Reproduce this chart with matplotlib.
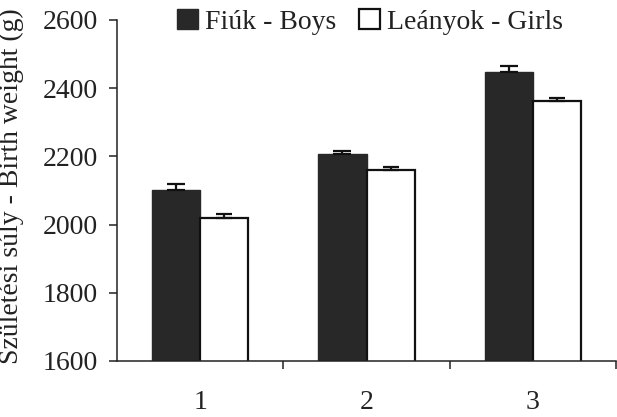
import matplotlib
matplotlib.use("Agg")
import matplotlib.pyplot as plt
import numpy as np

categories = ["1", "2", "3"]
boys = [2101, 2207, 2448]
boys_err = [18, 9, 18]
girls = [2019, 2159, 2362]
girls_err = [12, 11, 10]
yticks = [1600, 1800, 2000, 2200, 2400, 2600]

plt.rcParams['font.family'] = ['Liberation Serif', 'DejaVu Serif']
FS = 20
TXT = '#222222'

fig = plt.figure(figsize=(6.17, 4.17), dpi=100)
ax = fig.add_axes([117/617, 1-361/417, 499/617, 341/417])

x = np.arange(len(categories))
w = 0.29
ax.bar(x - w/2, boys, width=w, color='#282828', edgecolor='#282828', linewidth=1.0,
       label='Fiúk - Boys', zorder=2)
ax.bar(x + w/2, girls, width=w, color='white', edgecolor='#111111', linewidth=1.6,
       label='Leányok - Girls', zorder=2)
ax.errorbar(x - w/2, boys, yerr=[np.zeros(3), boys_err], fmt='none', ecolor='#111111',
            elinewidth=1.6, capsize=6.5, capthick=1.6, zorder=3)
ax.errorbar(x + w/2, girls, yerr=[np.zeros(3), girls_err], fmt='none', ecolor='#111111',
            elinewidth=1.6, capsize=5.5, capthick=1.6, zorder=3)

ax.set_xlim(-0.5, 2.5)
ax.set_ylim(1600, 2600)
ax.set_yticks(yticks)
ax.set_yticklabels([str(v) for v in yticks])
ax.set_xticks(x)
ax.set_xticklabels(categories)
ax.set_xticks([0.5, 1.5, 2.5], minor=True)
ax.tick_params(axis='x', which='major', length=0, pad=21, labelsize=FS, labelcolor=TXT)
ax.tick_params(axis='x', which='minor', length=6, width=1.1, direction='out', color='#222222')
ax.tick_params(axis='y', length=6, width=1.1, direction='out', pad=8, labelsize=FS,
               labelcolor=TXT, color='#222222')

for s in ['top', 'right']:
    ax.spines[s].set_visible(False)
for s in ['left', 'bottom']:
    ax.spines[s].set_linewidth(1.1)
    ax.spines[s].set_color('#222222')

ax.set_ylabel('Születési súly - Birth weight (g)', fontsize=FS, color=TXT)
ax.yaxis.set_label_coords(-0.186, 0.512)

fig.legend(loc='center', bbox_to_anchor=(370/617, 1-22/417), ncol=2, frameon=False,
           fontsize=FS, handlelength=0.75, handleheight=0.75, handletextpad=0.25,
           columnspacing=0.8, borderpad=0, labelcolor=TXT)

fig.savefig('out.png', dpi=100)
